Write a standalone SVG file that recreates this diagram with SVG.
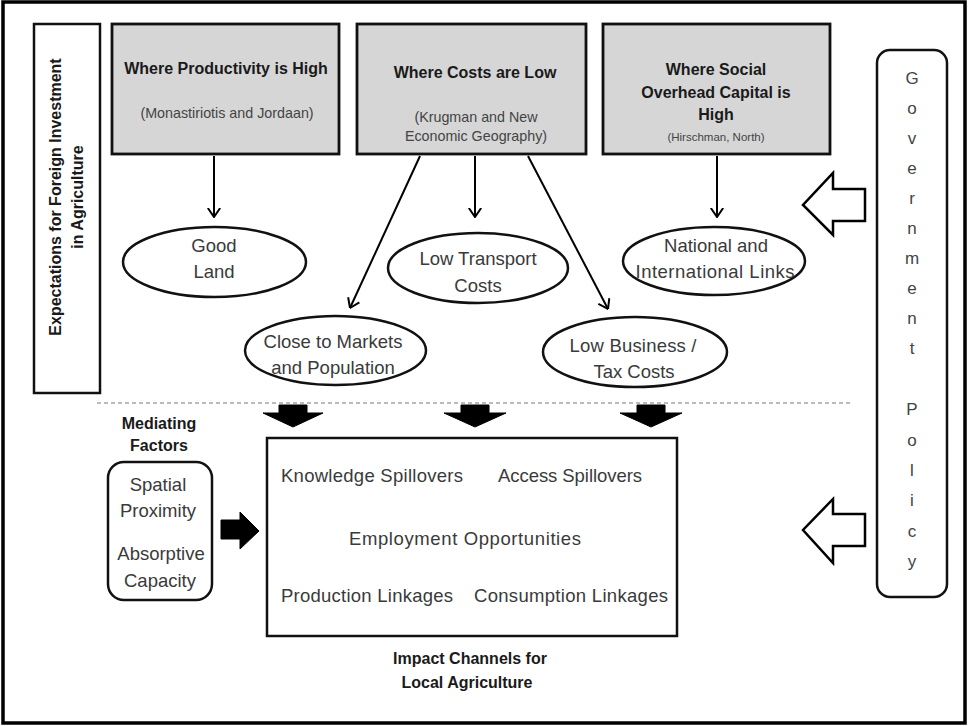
<svg xmlns="http://www.w3.org/2000/svg" width="970" height="726" viewBox="0 0 970 726">
<defs>
<marker id="vhead" viewBox="0 0 10 14" refX="9.5" refY="7" markerWidth="10" markerHeight="14" markerUnits="userSpaceOnUse" orient="auto">
<path d="M0.5,0.8 L9.5,7 L0.5,13.2" fill="none" stroke="#000" stroke-width="2"/>
</marker>
</defs>
<style>
.frame{fill:#fff;stroke:#000;stroke-width:3.5}
.box{fill:#fff;stroke:#111;stroke-width:2.5}
.gbox{fill:#d6d6d6;stroke:#111;stroke-width:2.8}
.ell{fill:#fff;stroke:#111;stroke-width:2.5}
.t{font-family:"Liberation Sans",Arial,sans-serif;font-size:18.5px;fill:#3a3a3a;text-anchor:middle}
.tl{font-family:"Liberation Sans",Arial,sans-serif;font-size:18.5px;fill:#3a3a3a}
.b{font-family:"Liberation Sans",Arial,sans-serif;font-size:16px;font-weight:bold;fill:#1a1a1a;text-anchor:middle}
.s{font-family:"Liberation Sans",Arial,sans-serif;font-size:14.3px;fill:#444;text-anchor:middle}
.g{font-family:"Liberation Sans",Arial,sans-serif;font-size:17px;fill:#444;text-anchor:middle}
.conn{stroke:#000;stroke-width:2;fill:none;marker-end:url(#vhead)}
.solid{fill:#000;stroke:#000;stroke-width:1}
.hollow{fill:#fff;stroke:#000;stroke-width:2.5;stroke-linejoin:miter}
</style>
<rect class="frame" x="3" y="2" width="962" height="721"/>

<g id="expectations">
<rect class="box" x="34" y="24" width="66" height="369"/>
<text class="b" transform="translate(61,197) rotate(-90)">Expectations for Foreign Investment</text>
<text class="b" transform="translate(83,197) rotate(-90)">in Agriculture</text>
</g>

<g id="productivity">
<rect class="gbox" x="112" y="24" width="227" height="130"/>
<text class="b" x="226" y="73.5">Where Productivity is High</text>
<text class="s" x="227" y="118" font-size="14.5px">(Monastiriotis and Jordaan)</text>
</g>

<g id="costs">
<rect class="gbox" x="357" y="24" width="229" height="130"/>
<text class="b" x="475" y="77.5">Where Costs are Low</text>
<text class="s" x="476" y="121.5">(Krugman and New</text>
<text class="s" x="476" y="140.5">Economic Geography)</text>
</g>

<g id="social">
<rect class="gbox" x="603" y="24" width="227" height="130"/>
<text class="b" x="716" y="74.5">Where Social</text>
<text class="b" x="716" y="97.5">Overhead Capital is</text>
<text class="b" x="716" y="119.5">High</text>
<text class="s" x="716" y="141" style="font-size:11.5px">(Hirschman, North)</text>
</g>

<g id="government">
<rect class="box" x="877" y="50" width="70" height="547" rx="13"/>
<text class="g" x="912" y="84">G</text>
<text class="g" x="912" y="114">o</text>
<text class="g" x="912" y="144">v</text>
<text class="g" x="912" y="174">e</text>
<text class="g" x="912" y="204">r</text>
<text class="g" x="912" y="234">n</text>
<text class="g" x="912" y="264">m</text>
<text class="g" x="912" y="294">e</text>
<text class="g" x="912" y="324">n</text>
<text class="g" x="912" y="354">t</text>
<text class="g" x="912" y="415">P</text>
<text class="g" x="912" y="446">o</text>
<text class="g" x="912" y="476">l</text>
<text class="g" x="912" y="506">i</text>
<text class="g" x="912" y="537">c</text>
<text class="g" x="912" y="567">y</text>
</g>

<g id="good-land">
<ellipse class="ell" cx="214.5" cy="262" rx="91.5" ry="35"/>
<text class="t" x="214" y="251.5">Good</text>
<text class="t" x="214" y="277.5">Land</text>
</g>

<g id="low-transport">
<ellipse class="ell" cx="478" cy="268" rx="90" ry="35"/>
<text class="t" x="478" y="264.5">Low Transport</text>
<text class="t" x="478" y="291.5">Costs</text>
</g>

<g id="national-links">
<ellipse class="ell" cx="714" cy="261" rx="91" ry="34"/>
<text class="t" x="716" y="251.5">National and</text>
<text class="t" x="715" y="277.5" textLength="159" lengthAdjust="spacing">International  Links</text>
</g>

<g id="close-markets">
<ellipse class="ell" cx="335.5" cy="350.5" rx="90.5" ry="34.5"/>
<text class="t" x="333" y="347.5">Close to Markets</text>
<text class="t" x="333" y="373.5">and Population</text>
</g>

<g id="low-business">
<ellipse class="ell" cx="635" cy="352" rx="92" ry="35"/>
<text class="t" x="633" y="351.5" textLength="127" lengthAdjust="spacing">Low Business  /</text>
<text class="t" x="634" y="377.5">Tax Costs</text>
</g>

<line x1="97" y1="403" x2="850" y2="403" stroke="#777" stroke-width="1" stroke-dasharray="4 3"/>

<g id="mediating-label">
<text class="b" x="159" y="428.5">Mediating</text>
<text class="b" x="159" y="450.5">Factors</text>
</g>

<g id="mediating-factors">
<rect class="box" x="108" y="462" width="104" height="138" rx="16"/>
<text class="t" x="158" y="490.5">Spatial</text>
<text class="t" x="158" y="516.5">Proximity</text>
<text class="t" x="161" y="559.5">Absorptive</text>
<text class="t" x="160" y="586.5">Capacity</text>
</g>

<g id="impact-channels">
<rect class="box" x="267" y="438" width="410" height="198"/>
<text class="tl" x="281" y="481.5" textLength="182" lengthAdjust="spacing">Knowledge  Spillovers</text>
<text class="tl" x="498" y="481.5" textLength="144" lengthAdjust="spacing">Access Spillovers</text>
<text class="tl" x="349" y="544.5" textLength="232" lengthAdjust="spacing">Employment  Opportunities</text>
<text class="tl" x="281" y="601.5" textLength="172" lengthAdjust="spacing">Production  Linkages</text>
<text class="tl" x="474" y="601.5" textLength="194" lengthAdjust="spacing">Consumption  Linkages</text>
</g>

<g id="impact-label">
<text class="b" x="470" y="663.5">Impact Channels for</text>
<text class="b" x="467" y="687.5">Local Agriculture</text>
</g>

<g id="connectors">
<line class="conn" x1="214" y1="156" x2="214" y2="217"/>
<line class="conn" x1="475" y1="156" x2="475" y2="217"/>
<line class="conn" x1="717" y1="156" x2="717" y2="217"/>
<line class="conn" x1="420" y1="156" x2="350" y2="308"/>
<line class="conn" x1="528" y1="156" x2="608" y2="309"/>
<polygon class="solid" points="279,405 307,405 307,413 323,413 293,427 263,413 279,413"/>
<polygon class="solid" points="461,405 489,405 489,413 506,413 475,427 444,413 461,413"/>
<polygon class="solid" points="637,405 665,405 665,413 682,413 651,427 620,413 637,413"/>
<polygon class="solid" points="221,520 240,520 240,512 259,531 240,549 240,539 221,539"/>
<polygon class="hollow" points="865,189 833,189 833,173 803,205 833,235 833,221 865,221"/>
<polygon class="hollow" points="865,514 833,514 833,499 803,530 833,563 833,546 865,546"/>
</g>
</svg>
